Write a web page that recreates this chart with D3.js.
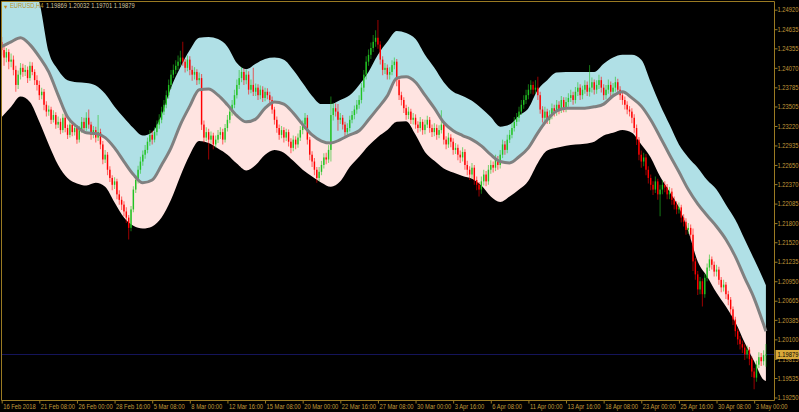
<!DOCTYPE html>
<html><head><meta charset="utf-8">
<script src="https://cdn.jsdelivr.net/npm/d3@7"></script>
<style>html,body{margin:0;padding:0;background:#000;overflow:hidden}</style>
</head><body><svg id="c" width="799" height="412"></svg>
<script>
const symbol = "EURUSD,H4";
const lastOHLC = ["1.19869", "1.20032", "1.19701", "1.19879"];
const bidPrice = 1.19879;
const xLabelIdx = [0,16,32,48,64,80,96,112,128,144,160,176,192,208,224,240,256,272,288,304,320];
const xLabels = ["16 Feb 2018","21 Feb 08:00","26 Feb 00:00","28 Feb 16:00","5 Mar 08:00","8 Mar 00:00","12 Mar 16:00","15 Mar 08:00","20 Mar 00:00","22 Mar 16:00","27 Mar 08:00","30 Mar 00:00","3 Apr 16:00","6 Apr 08:00","11 Apr 00:00","13 Apr 16:00","18 Apr 08:00","23 Apr 00:00","25 Apr 16:00","30 Apr 08:00","3 May 00:00"];
const yTicks = [1.24920,1.24635,1.24355,1.24070,1.23785,1.23505,1.23220,1.22935,1.22650,1.22370,1.22085,1.21800,1.21520,1.21235,1.20950,1.20665,1.20385,1.20100,1.19815,1.19535,1.19250];

const close = [
1.2433,1.2422,1.2430,1.2416,1.2419,1.2404,1.2382,1.2397,1.2407,1.2401,
1.2404,1.2392,1.2410,1.2401,1.2389,1.2382,1.2367,1.2372,1.2353,1.2343,
1.2346,1.2331,1.2338,1.2324,1.2328,1.2316,1.2334,1.2319,1.2309,1.2324,
1.2313,1.2319,1.2302,1.2316,1.2328,1.2319,1.2334,1.2324,1.2309,1.2316,
1.2305,1.2313,1.2295,1.2273,1.2280,1.2258,1.2246,1.2236,1.2241,1.2222,
1.2214,1.2207,1.2197,1.2188,1.2173,1.2200,1.2229,1.2243,1.2258,1.2270,
1.2280,1.2287,1.2299,1.2309,1.2302,1.2313,1.2324,1.2331,1.2343,1.2353,
1.2367,1.2382,1.2397,1.2404,1.2410,1.2416,1.2422,1.2416,1.2407,1.2419,
1.2404,1.2397,1.2401,1.2389,1.2392,1.2324,1.2305,1.2313,1.2302,1.2308,
1.2295,1.2302,1.2309,1.2313,1.2302,1.2319,1.2331,1.2343,1.2353,1.2367,
1.2382,1.2392,1.2401,1.2389,1.2397,1.2375,1.2382,1.2372,1.2378,1.2367,
1.2375,1.2363,1.2372,1.2367,1.2360,1.2346,1.2331,1.2319,1.2309,1.2316,
1.2305,1.2313,1.2299,1.2290,1.2302,1.2295,1.2305,1.2316,1.2324,1.2334,
1.2302,1.2280,1.2270,1.2258,1.2246,1.2255,1.2265,1.2276,1.2273,1.2287,
1.2338,1.2348,1.2343,1.2331,1.2334,1.2324,1.2313,1.2319,1.2331,1.2338,
1.2346,1.2353,1.2360,1.2378,1.2397,1.2416,1.2426,1.2436,1.2445,1.2451,
1.2441,1.2419,1.2404,1.2407,1.2397,1.2401,1.2411,1.2416,1.2389,1.2367,
1.2360,1.2348,1.2338,1.2343,1.2331,1.2334,1.2324,1.2319,1.2328,1.2316,
1.2324,1.2331,1.2319,1.2313,1.2319,1.2309,1.2316,1.2324,1.2302,1.2295,
1.2305,1.2299,1.2287,1.2290,1.2280,1.2276,1.2284,1.2265,1.2258,1.2251,
1.2261,1.2243,1.2236,1.2229,1.2241,1.2251,1.2241,1.2258,1.2265,1.2261,
1.2273,1.2265,1.2280,1.2295,1.2287,1.2302,1.2309,1.2319,1.2328,1.2334,
1.2343,1.2353,1.2360,1.2367,1.2375,1.2382,1.2375,1.2378,1.2367,1.2346,
1.2334,1.2343,1.2331,1.2338,1.2348,1.2343,1.2353,1.2346,1.2360,1.2348,
1.2357,1.2363,1.2367,1.2360,1.2372,1.2378,1.2367,1.2375,1.2382,1.2372,
1.2378,1.2386,1.2375,1.2382,1.2389,1.2378,1.2367,1.2375,1.2382,1.2372,
1.2378,1.2386,1.2375,1.2367,1.2360,1.2353,1.2346,1.2343,1.2334,1.2319,
1.2302,1.2280,1.2270,1.2276,1.2258,1.2246,1.2236,1.2229,1.2241,1.2222,
1.2229,1.2236,1.2232,1.2222,1.2226,1.2214,1.2207,1.2200,1.2203,1.2188,
1.2182,1.2170,1.2173,1.2163,1.2124,1.2105,1.2083,1.2095,1.2076,1.2100,
1.2115,1.2127,1.2119,1.2109,1.2112,1.2097,1.2086,1.2090,1.2076,1.2068,
1.2054,1.2039,1.2022,1.2010,1.2003,1.1998,1.1988,1.1995,1.1981,1.1963,
1.1954,1.1973,1.1984,1.1978,1.19869,1.19879];

const open = [1.2445,
1.2433,1.2422,1.2430,1.2416,1.2419,1.2404,1.2382,1.2397,1.2407,1.2401,
1.2404,1.2392,1.2410,1.2401,1.2389,1.2382,1.2367,1.2372,1.2353,1.2343,
1.2346,1.2331,1.2338,1.2324,1.2328,1.2316,1.2334,1.2319,1.2309,1.2324,
1.2313,1.2319,1.2302,1.2316,1.2328,1.2319,1.2334,1.2324,1.2309,1.2316,
1.2305,1.2313,1.2295,1.2273,1.2280,1.2258,1.2246,1.2236,1.2241,1.2222,
1.2214,1.2207,1.2197,1.2188,1.2173,1.2200,1.2229,1.2243,1.2258,1.2270,
1.2280,1.2287,1.2299,1.2309,1.2302,1.2313,1.2324,1.2331,1.2343,1.2353,
1.2367,1.2382,1.2397,1.2404,1.2410,1.2416,1.2422,1.2416,1.2407,1.2419,
1.2404,1.2397,1.2401,1.2389,1.2392,1.2324,1.2305,1.2313,1.2302,1.2308,
1.2295,1.2302,1.2309,1.2313,1.2302,1.2319,1.2331,1.2343,1.2353,1.2367,
1.2382,1.2392,1.2401,1.2389,1.2397,1.2375,1.2382,1.2372,1.2378,1.2367,
1.2375,1.2363,1.2372,1.2367,1.2360,1.2346,1.2331,1.2319,1.2309,1.2316,
1.2305,1.2313,1.2299,1.2290,1.2302,1.2295,1.2305,1.2316,1.2324,1.2334,
1.2302,1.2280,1.2270,1.2258,1.2246,1.2255,1.2265,1.2276,1.2273,1.2287,
1.2338,1.2348,1.2343,1.2331,1.2334,1.2324,1.2313,1.2319,1.2331,1.2338,
1.2346,1.2353,1.2360,1.2378,1.2397,1.2416,1.2426,1.2436,1.2445,1.2451,
1.2441,1.2419,1.2404,1.2407,1.2397,1.2401,1.2411,1.2416,1.2389,1.2367,
1.2360,1.2348,1.2338,1.2343,1.2331,1.2334,1.2324,1.2319,1.2328,1.2316,
1.2324,1.2331,1.2319,1.2313,1.2319,1.2309,1.2316,1.2324,1.2302,1.2295,
1.2305,1.2299,1.2287,1.2290,1.2280,1.2276,1.2284,1.2265,1.2258,1.2251,
1.2261,1.2243,1.2236,1.2229,1.2241,1.2251,1.2241,1.2258,1.2265,1.2261,
1.2273,1.2265,1.2280,1.2295,1.2287,1.2302,1.2309,1.2319,1.2328,1.2334,
1.2343,1.2353,1.2360,1.2367,1.2375,1.2382,1.2375,1.2378,1.2367,1.2346,
1.2334,1.2343,1.2331,1.2338,1.2348,1.2343,1.2353,1.2346,1.2360,1.2348,
1.2357,1.2363,1.2367,1.2360,1.2372,1.2378,1.2367,1.2375,1.2382,1.2372,
1.2378,1.2386,1.2375,1.2382,1.2389,1.2378,1.2367,1.2375,1.2382,1.2372,
1.2378,1.2386,1.2375,1.2367,1.2360,1.2353,1.2346,1.2343,1.2334,1.2319,
1.2302,1.2280,1.2270,1.2276,1.2258,1.2246,1.2236,1.2229,1.2241,1.2222,
1.2229,1.2236,1.2232,1.2222,1.2226,1.2214,1.2207,1.2200,1.2203,1.2188,
1.2182,1.2170,1.2173,1.2163,1.2124,1.2105,1.2083,1.2095,1.2076,1.2100,
1.2115,1.2127,1.2119,1.2109,1.2112,1.2097,1.2086,1.2090,1.2076,1.2068,
1.2054,1.2039,1.2022,1.2010,1.2003,1.1998,1.1988,1.1995,1.1981,1.1963,
1.1954,1.1973,1.1984,1.1978,1.19869];

const high = [
1.2452,1.2440,1.2436,1.2434,1.2428,1.2425,1.2410,1.2403,1.2414,1.2413,
1.2411,1.2409,1.2416,1.2415,1.2405,1.2396,1.2388,1.2378,1.2376,1.2358,
1.2352,1.2350,1.2345,1.2342,1.2336,1.2333,1.2340,1.2339,1.2324,1.2330,
1.2329,1.2326,1.2323,1.2322,1.2335,1.2334,1.2342,1.2346,1.2328,1.2322,
1.2321,1.2338,1.2318,1.2300,1.2287,1.2284,1.2263,1.2250,1.2247,1.2245,
1.2228,1.2219,1.2212,1.2203,1.2192,1.2205,1.2234,1.2250,1.2264,1.2277,
1.2286,1.2294,1.2305,1.2316,1.2315,1.2320,1.2330,1.2339,1.2350,1.2360,
1.2374,1.2390,1.2404,1.2412,1.2418,1.2425,1.2432,1.2445,1.2420,1.2425,
1.2424,1.2410,1.2408,1.2405,1.2400,1.2398,1.2330,1.2320,1.2318,1.2314,
1.2312,1.2308,1.2316,1.2320,1.2318,1.2325,1.2338,1.2350,1.2360,1.2375,
1.2390,1.2404,1.2408,1.2406,1.2404,1.2402,1.2390,1.2407,1.2384,1.2383,
1.2381,1.2380,1.2378,1.2377,1.2372,1.2365,1.2350,1.2336,1.2324,1.2322,
1.2320,1.2318,1.2317,1.2304,1.2308,1.2307,1.2311,1.2322,1.2330,1.2341,
1.2338,1.2306,1.2285,1.2275,1.2262,1.2262,1.2271,1.2282,1.2283,1.2294,
1.2365,1.2356,1.2355,1.2354,1.2341,1.2338,1.2328,1.2326,1.2337,1.2344,
1.2352,1.2360,1.2367,1.2385,1.2404,1.2424,1.2434,1.2444,1.2455,1.2462,
1.2477,1.2446,1.2424,1.2414,1.2412,1.2408,1.2418,1.2422,1.2420,1.2393,
1.2372,1.2364,1.2353,1.2350,1.2347,1.2341,1.2339,1.2329,1.2335,1.2332,
1.2331,1.2337,1.2335,1.2324,1.2326,1.2324,1.2323,1.2345,1.2328,1.2307,
1.2312,1.2310,1.2304,1.2297,1.2295,1.2286,1.2291,1.2288,1.2271,1.2263,
1.2268,1.2265,1.2248,1.2240,1.2248,1.2258,1.2256,1.2265,1.2272,1.2270,
1.2280,1.2278,1.2287,1.2302,1.2300,1.2309,1.2316,1.2326,1.2335,1.2341,
1.2350,1.2360,1.2367,1.2375,1.2383,1.2389,1.2387,1.2389,1.2394,1.2372,
1.2351,1.2350,1.2347,1.2345,1.2355,1.2353,1.2360,1.2358,1.2366,1.2364,
1.2364,1.2370,1.2375,1.2372,1.2379,1.2386,1.2383,1.2381,1.2389,1.2387,
1.2411,1.2393,1.2390,1.2389,1.2397,1.2394,1.2383,1.2382,1.2390,1.2387,
1.2385,1.2394,1.2391,1.2380,1.2372,1.2365,1.2358,1.2351,1.2348,1.2339,
1.2324,1.2306,1.2286,1.2283,1.2281,1.2263,1.2251,1.2241,1.2248,1.2245,
1.2236,1.2243,1.2241,1.2237,1.2233,1.2231,1.2219,1.2212,1.2210,1.2207,
1.2193,1.2187,1.2180,1.2178,1.2172,1.2129,1.2110,1.2101,1.2099,1.2106,
1.2121,1.2134,1.2131,1.2124,1.2119,1.2116,1.2101,1.2097,1.2094,1.2081,
1.2072,1.2058,1.2043,1.2026,1.2015,1.2008,1.2003,1.2001,1.1999,1.1985,
1.1968,1.1979,1.1991,1.1990,1.1994,1.20032];

const low = [
1.2425,1.2410,1.2415,1.2405,1.2408,1.2396,1.2372,1.2376,1.2390,1.2394,
1.2395,1.2385,1.2388,1.2396,1.2382,1.2374,1.2360,1.2361,1.2345,1.2336,
1.2337,1.2325,1.2327,1.2318,1.2319,1.2310,1.2312,1.2313,1.2303,1.2305,
1.2307,1.2308,1.2296,1.2298,1.2312,1.2313,1.2315,1.2318,1.2302,1.2304,
1.2298,1.2300,1.2288,1.2266,1.2268,1.2250,1.2240,1.2228,1.2230,1.2215,
1.2207,1.2199,1.2190,1.2180,1.2156,1.2168,1.2196,1.2224,1.2238,1.2252,
1.2264,1.2274,1.2282,1.2293,1.2295,1.2298,1.2308,1.2318,1.2326,1.2338,
1.2348,1.2362,1.2376,1.2392,1.2398,1.2404,1.2410,1.2410,1.2400,1.2402,
1.2396,1.2388,1.2390,1.2382,1.2383,1.2316,1.2298,1.2300,1.2273,1.2296,
1.2288,1.2290,1.2297,1.2303,1.2295,1.2298,1.2314,1.2326,1.2337,1.2348,
1.2362,1.2376,1.2386,1.2382,1.2383,1.2368,1.2370,1.2366,1.2366,1.2360,
1.2361,1.2357,1.2358,1.2361,1.2353,1.2340,1.2324,1.2312,1.2302,1.2304,
1.2298,1.2300,1.2292,1.2282,1.2285,1.2288,1.2290,1.2300,1.2310,1.2318,
1.2295,1.2272,1.2262,1.2250,1.2239,1.2241,1.2250,1.2260,1.2266,1.2268,
1.2270,1.2330,1.2336,1.2315,1.2325,1.2317,1.2306,1.2308,1.2314,1.2326,
1.2332,1.2340,1.2347,1.2355,1.2372,1.2390,1.2410,1.2420,1.2430,1.2438,
1.2435,1.2412,1.2396,1.2398,1.2390,1.2390,1.2396,1.2405,1.2380,1.2360,
1.2352,1.2341,1.2331,1.2332,1.2325,1.2324,1.2318,1.2312,1.2314,1.2309,
1.2310,1.2319,1.2312,1.2306,1.2307,1.2302,1.2304,1.2311,1.2295,1.2288,
1.2290,1.2291,1.2280,1.2281,1.2272,1.2268,1.2270,1.2258,1.2250,1.2243,
1.2245,1.2236,1.2228,1.2219,1.2223,1.2235,1.2234,1.2236,1.2252,1.2254,
1.2256,1.2258,1.2260,1.2275,1.2280,1.2282,1.2297,1.2304,1.2314,1.2322,
1.2328,1.2338,1.2347,1.2354,1.2361,1.2369,1.2368,1.2369,1.2360,1.2340,
1.2327,1.2328,1.2325,1.2325,1.2332,1.2336,1.2337,1.2339,1.2341,1.2342,
1.2342,1.2350,1.2357,1.2353,1.2355,1.2366,1.2360,1.2361,1.2369,1.2366,
1.2365,1.2371,1.2368,1.2369,1.2376,1.2371,1.2360,1.2361,1.2369,1.2365,
1.2366,1.2372,1.2368,1.2360,1.2353,1.2346,1.2339,1.2336,1.2326,1.2312,
1.2294,1.2272,1.2261,1.2263,1.2250,1.2238,1.2228,1.2221,1.2224,1.2214,
1.2190,1.2222,1.2225,1.2215,1.2215,1.2207,1.2200,1.2193,1.2194,1.2181,
1.2175,1.2163,1.2164,1.2156,1.2110,1.2097,1.2075,1.2076,1.2058,1.2071,
1.2095,1.2110,1.2112,1.2102,1.2102,1.2090,1.2079,1.2080,1.2069,1.2060,
1.2046,1.2031,1.2014,1.2002,1.1995,1.1990,1.1980,1.1982,1.1972,1.1955,
1.1937,1.1948,1.1968,1.1971,1.1972,1.19701];

const bandIdx = [0,4,8,12,16,20,24,28,32,36,40,44,48,52,56,60,64,68,72,76,80,84,88,92,96,100,104,108,112,116,120,124,128,132,136,140,144,148,152,156,160,164,168,172,176,180,184,188,192,196,200,204,208,212,216,220,224,228,232,236,240,244,248,252,256,260,264,268,272,276,280,284,288,292,296,300,304,308,312,316,320,324,325];
const upperBand = [
1.2543,1.2543,1.2538,1.2528,1.2503,1.2430,1.2404,1.2389,1.2386,1.2385,
1.2381,1.2369,1.2350,1.2334,1.2319,1.2308,1.2313,1.2338,1.2378,1.2408,
1.2433,1.2451,1.2452,1.2449,1.2438,1.2414,1.2405,1.2413,1.2420,1.2422,
1.2419,1.2404,1.2385,1.2366,1.2354,1.2354,1.2360,1.2367,1.2382,1.2401,
1.2426,1.2445,1.2461,1.2458,1.2449,1.2426,1.2407,1.2386,1.2372,1.2366,
1.2359,1.2348,1.2335,1.2321,1.2324,1.2337,1.2348,1.2375,1.2389,1.2400,
1.2401,1.2401,1.2401,1.2401,1.2413,1.2422,1.2426,1.2426,1.2419,1.2386,
1.2353,1.2324,1.2295,1.2276,1.2261,1.2243,1.2229,1.2207,1.2185,1.2156,
1.2127,1.2097,1.2089];
const middleBand = [
1.2438,1.2445,1.2451,1.2441,1.2423,1.2401,1.2367,1.2335,1.2321,1.2312,
1.2311,1.2305,1.2290,1.2270,1.2251,1.2239,1.2243,1.2265,1.2290,1.2324,
1.2351,1.2375,1.2376,1.2367,1.2353,1.2337,1.2328,1.2332,1.2348,1.2357,
1.2354,1.2341,1.2324,1.2309,1.2300,1.2297,1.2302,1.2309,1.2315,1.2331,
1.2348,1.2366,1.2392,1.2394,1.2386,1.2367,1.2348,1.2327,1.2315,1.2308,
1.2302,1.2293,1.2280,1.2270,1.2268,1.2277,1.2290,1.2312,1.2331,1.2344,
1.2348,1.2348,1.2348,1.2350,1.2354,1.2366,1.2372,1.2363,1.2351,1.2331,
1.2306,1.2280,1.2255,1.2229,1.2208,1.2191,1.2175,1.2156,1.2131,1.2100,
1.2070,1.2032,1.2022];
const lowerBand = [
1.2335,1.2350,1.2365,1.2357,1.2328,1.2295,1.2265,1.2246,1.2238,1.2235,
1.2239,1.2233,1.2210,1.2188,1.2176,1.2172,1.2175,1.2188,1.2214,1.2249,
1.2280,1.2300,1.2297,1.2289,1.2280,1.2267,1.2257,1.2265,1.2280,1.2287,
1.2283,1.2271,1.2258,1.2248,1.2239,1.2233,1.2241,1.2262,1.2277,1.2293,
1.2306,1.2316,1.2328,1.2329,1.2309,1.2284,1.2271,1.2260,1.2254,1.2249,
1.2245,1.2235,1.2219,1.2211,1.2219,1.2229,1.2242,1.2268,1.2286,1.2290,
1.2293,1.2295,1.2296,1.2299,1.2308,1.2312,1.2316,1.2312,1.2295,1.2276,
1.2248,1.2226,1.2203,1.2168,1.2124,1.2102,1.2078,1.2058,1.2035,1.2005,
1.1978,1.1951,1.1949];

// ---------- drawing ----------
const W = 799, H = 412;
const frame = {left: 1.5, top: 1.5, right: 774.5, bottom: 400.5};
const gold = "#9a7a22", labelCol = "#c09a3a";
const fontFam = "'Liberation Sans', Arial, sans-serif";
const fs = "7px";
const squeeze = 0.83;   // the reference uses a narrow UI font

// horizontally condense a text around its own anchor x
function narrow(sel) {
  sel.each(function () {
    const ax = +(this.getAttribute("x") || 0);
    this.setAttribute("transform", `translate(${ax},0) scale(${squeeze},1) translate(${-ax},0)`);
  });
}

const svg = d3.select("#c");
svg.append("rect").attr("width", W).attr("height", H).attr("fill", "#000");

const x = d3.scaleLinear().domain([0, 325]).range([1.7, 765.9]);
const y = d3.scaleLinear().domain([1.19250, 1.24920]).range([397.5, 9.7]);

const defs = svg.append("defs");
defs.append("clipPath").attr("id", "plotClip").append("rect")
  .attr("x", frame.left + 0.5).attr("y", frame.top + 0.5)
  .attr("width", frame.right - frame.left - 1).attr("height", frame.bottom - frame.top - 1);

const plot = svg.append("g").attr("clip-path", "url(#plotClip)");

const bands = bandIdx.map((b, k) => ({i: b, u: upperBand[k], m: middleBand[k], l: lowerBand[k]}));
const curve = d3.curveMonotoneX;

// bid line
plot.append("line")
  .attr("x1", frame.left).attr("x2", frame.right)
  .attr("y1", Math.round(y(bidPrice)) + 0.5).attr("y2", Math.round(y(bidPrice)) + 0.5)
  .attr("stroke", "#14145a").attr("stroke-width", 1);

plot.append("path").datum(bands)
  .attr("d", d3.area().x(d => x(d.i)).y0(d => y(d.m)).y1(d => y(d.u)).curve(curve))
  .attr("fill", "#b0e0e6");
plot.append("path").datum(bands)
  .attr("d", d3.area().x(d => x(d.i)).y0(d => y(d.l)).y1(d => y(d.m)).curve(curve))
  .attr("fill", "#ffe4e1");

// candles
const bars = close.map((c, i) => ({i, o: open[i], h: high[i], l: low[i], c}));
const upCol = "#22c322", dnCol = "#ff0000";
const cg = plot.append("g");
cg.selectAll("line.w").data(bars).join("line").attr("class", "w")
  .attr("x1", d => x(d.i)).attr("x2", d => x(d.i))
  .attr("y1", d => y(d.h)).attr("y2", d => y(d.l))
  .attr("stroke", d => d.c >= d.o ? upCol : dnCol)
  .attr("stroke-opacity", 0.55).attr("stroke-width", 1.1);
cg.selectAll("rect.b").data(bars).join("rect").attr("class", "b")
  .attr("x", d => x(d.i) - 0.7).attr("width", 1.4)
  .attr("y", d => y(Math.max(d.o, d.c)))
  .attr("height", d => Math.max(1, Math.abs(y(d.o) - y(d.c))))
  .attr("fill", d => d.c >= d.o ? upCol : dnCol);

// middle line
plot.append("path").datum(bands)
  .attr("d", d3.line().x(d => x(d.i)).y(d => y(d.m)).curve(curve))
  .attr("fill", "none").attr("stroke", "#808080").attr("stroke-width", 3);

// frame
svg.append("path")
  .attr("d", `M${frame.left},${frame.bottom}V${frame.top}H${frame.right}V${frame.bottom}H${frame.left}`)
  .attr("fill", "none").attr("stroke", gold).attr("stroke-width", 1);

// right axis
const yAxis = d3.axisRight(y).tickValues(yTicks).tickSize(3).tickSizeOuter(0)
  .tickFormat(d => d3.format(".5f")(d));
const ya = svg.append("g").attr("transform", `translate(${frame.right},0)`).call(yAxis);
ya.select(".domain").remove();
ya.selectAll("line").attr("stroke", gold);
ya.selectAll("text").attr("fill", labelCol).attr("x", 3)
  .style("font-family", fontFam).style("font-size", fs).call(narrow);

// bottom axis
const xAxis = d3.axisBottom(x).tickValues(xLabelIdx).tickSize(3).tickSizeOuter(0)
  .tickFormat((d, k) => xLabels[k]);
const xa = svg.append("g").attr("transform", `translate(0,${frame.bottom})`).call(xAxis);
xa.select(".domain").remove();
xa.selectAll("line").attr("stroke", gold);
xa.selectAll("text").attr("fill", labelCol).attr("text-anchor", "start").attr("x", 1).attr("y", 3.5).attr("dy", "0.71em")
  .style("font-family", fontFam).style("font-size", fs).call(narrow);

// price label on axis
const py = y(bidPrice);
svg.append("rect").attr("x", frame.right + 1).attr("y", py - 4.5).attr("width", W - frame.right - 1).attr("height", 9)
  .attr("fill", "#d8a93a");
svg.append("text").attr("x", frame.right + 3).attr("y", py).attr("dy", "0.35em")
  .attr("fill", "#000").style("font-family", fontFam).style("font-size", fs)
  .text(d3.format(".5f")(bidPrice)).call(narrow);

// title
const tg = svg.append("g").style("font-family", fontFam).style("font-size", fs);
tg.append("text").attr("x", 3).attr("y", 8.5).attr("fill", "#c08a20").style("font-size", "5.5px").text("\u25BC");
tg.append("text").attr("x", 10).attr("y", 8.5).attr("fill", "#b8902c").text(symbol).call(narrow);
tg.append("text").attr("x", 46).attr("y", 8.5).attr("fill", "#d8c8a0").text(lastOHLC.join(" ")).call(narrow);
</script>
</body></html>
